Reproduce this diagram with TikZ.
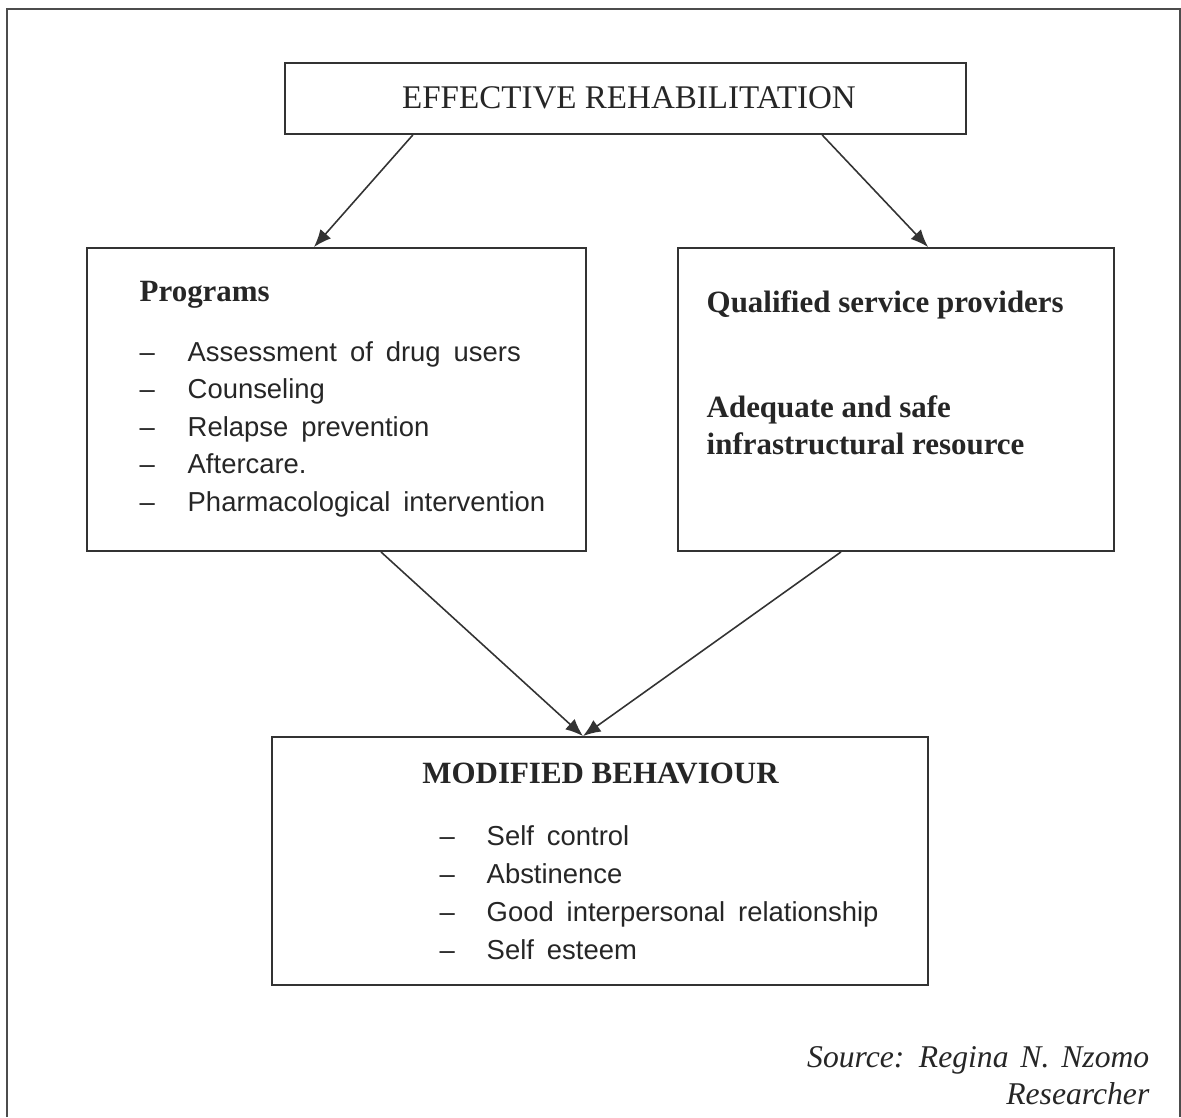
\documentclass[tikz,border=0pt]{standalone}
\usepackage{fontspec}
\setmainfont{Liberation Serif}
\newfontfamily\listfont[WordSpace=1.7]{Liberation Sans}
\newfontfamily\srcfont[WordSpace=1.5]{Liberation Serif}
\usetikzlibrary{arrows.meta}

\tikzset{
  box/.style={draw=black!80, line width=0.5pt, inner sep=0pt},
  arr/.style={-{Latex[length=5pt,width=4pt]}, draw=black!80, line width=0.45pt},
  head/.style={inner sep=0pt, text=black!85, font=\fontsize{8.8}{10}\selectfont\bfseries},
  item/.style={anchor=base west, inner sep=0pt, text=black!85, font=\fontsize{7.8}{9}\listfont},
}

\begin{document}
\begin{tikzpicture}[x=0.01cm,y=-0.01cm]
  \useasboundingbox (0,0) rectangle (1181,1117);
  \draw[black!70, line width=0.4pt] (7,1117) -- (7,9) -- (1180,9) -- (1180,1117);

  % boxes
  \node[box, minimum width=6.81cm, minimum height=0.71cm] (eff) at (625.5,98.5) {};
  \node[box, minimum width=4.99cm, minimum height=3.03cm] (prog) at (336.5,399.5) {};
  \node[box, minimum width=4.36cm, minimum height=3.03cm] (qual) at (896,399.5) {};
  \node[box, minimum width=6.56cm, minimum height=2.48cm] (mod) at (600,861) {};

  % texts
  \node[head, anchor=base, font=\fontsize{9.4}{11}\selectfont] (efftxt) at (629,108) {EFFECTIVE REHABILITATION};
  \node[head, anchor=base west] (progtxt) at (139,301) {Programs};
  \foreach \txt [count=\i from 0] in {Assessment of drug users, Counseling, Relapse prevention, Aftercare., Pharmacological intervention} {
    \node[item] (pd\i) at (139,{361+37.5*\i}) {–};
    \node[item] (p\i) at (187,{361+37.5*\i}) {\txt};
  }
  \node[head, anchor=base west] (qualtxt) at (706,312) {Qualified service providers};
  \node[head, anchor=base west] (adeq) at (706,417) {Adequate and safe};
  \node[head, anchor=base west] (infra) at (706,454) {infrastructural resource};
  \node[head, anchor=base] (modtxt) at (600.5,783) {MODIFIED BEHAVIOUR};
  \foreach \txt [count=\i from 0] in {Self control, Abstinence, Good interpersonal relationship, Self esteem} {
    \node[item] (md\i) at (439,{845+38.3*\i}) {–};
    \node[item] (m\i) at (486,{845+38.3*\i}) {\txt};
  }
  \node[anchor=base east, inner sep=0pt, text=black!85, font=\fontsize{9}{11}\srcfont\itshape] (src) at (1150,1067) {Source: Regina N. Nzomo};
  \node[anchor=base east, inner sep=0pt, text=black!85, font=\fontsize{9}{11}\srcfont\itshape] (res) at (1150,1104) {Researcher};

  % arrows
  \draw[arr] ([xshift=-2.125cm]eff.south) -- ([xshift=-0.225cm]prog.north);
  \draw[arr] ([xshift=1.965cm]eff.south) -- ([xshift=0.32cm]qual.north);
  \draw[arr] ([xshift=0.445cm]prog.south) -- ([xshift=-0.17cm]mod.north);
  \draw[arr] ([xshift=-0.55cm]qual.south) -- ([xshift=-0.17cm]mod.north);
\end{tikzpicture}
\end{document}
